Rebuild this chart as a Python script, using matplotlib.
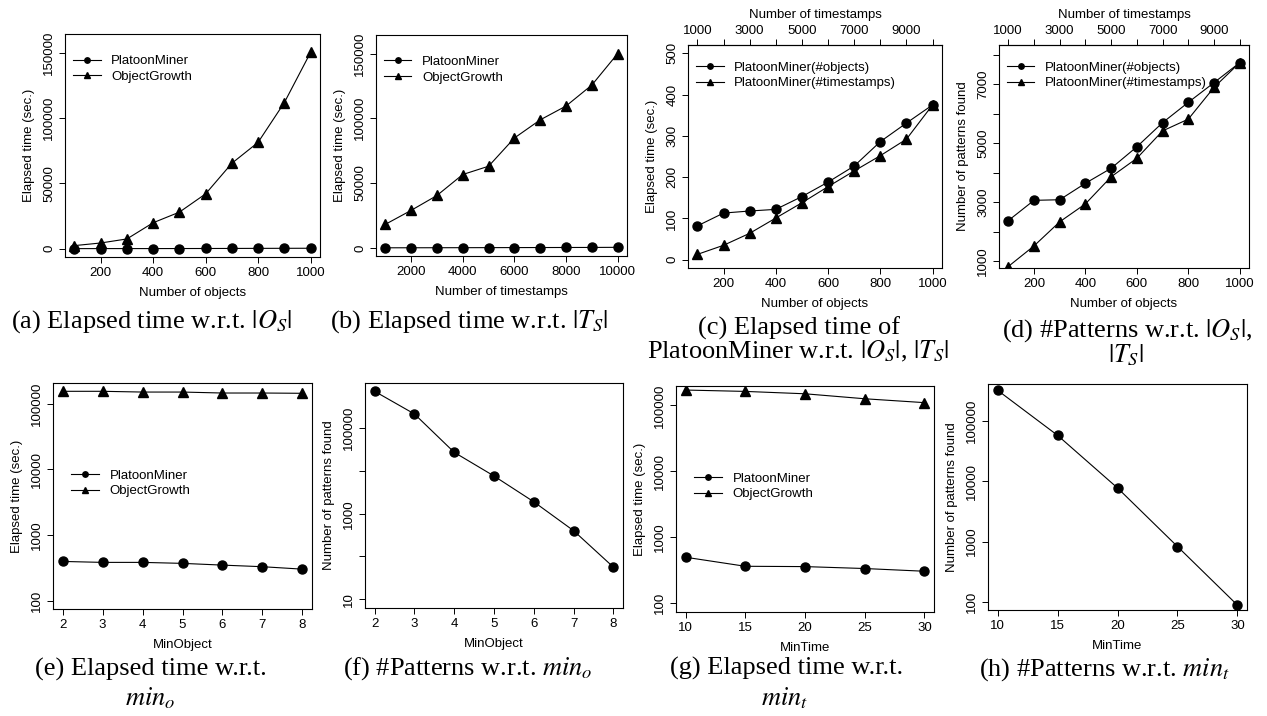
import numpy as np
import matplotlib.pyplot as plt
from matplotlib.ticker import FixedLocator, FixedFormatter, NullLocator

plt.rcParams['font.family'] = ['Liberation Sans', 'DejaVu Sans']
plt.rcParams['mathtext.fontset'] = 'stix'

# data
n_objects = [100, 200, 300, 400, 500, 600, 700, 800, 900, 1000]
n_timestamps = [1000, 2000, 3000, 4000, 5000, 6000, 7000, 8000, 9000, 10000]

time_by_objects_pm = [82, 113, 118, 122, 153, 188, 227, 286, 331, 375]
time_by_objects_og = [2400, 4400, 7500, 19900, 28000, 42000, 65400, 81400, 111800, 150200]
time_by_ts_pm = [13, 35, 64, 101, 138, 177, 215, 252, 292, 375]
time_by_ts_og = [18100, 28900, 40400, 56600, 63000, 84800, 98800, 109500, 125700, 150000]

pat_by_objects = [2370, 3060, 3080, 3640, 4150, 4880, 5700, 6390, 7060, 7740]
pat_by_ts = [810, 1510, 2330, 2940, 3860, 4490, 5420, 5820, 6900, 7740]

min_object = [2, 3, 4, 5, 6, 7, 8]
time_minobj_pm = [397, 384, 384, 371, 349, 330, 303]
time_minobj_og = [154000, 154000, 150000, 150000, 145000, 145000, 143600]
pat_minobj = [736000, 217000, 27400, 7640, 1900, 400, 56]

min_time = [10, 15, 20, 25, 30]
time_mintime_pm = [490, 357, 353, 330, 300]
time_mintime_og = [171000, 163000, 150000, 126000, 110000]
pat_mintime = [323000, 57800, 7740, 826, 88]

W, H = 1267, 716
fig = plt.figure(figsize=(W / 100, H / 100), dpi=100)

FS = 9.5
CAP = 19


def make_axes(l, t, r, b):
    ax = fig.add_axes([l / W, 1 - b / H, (r - l) / W, (b - t) / H])
    for s in ax.spines.values():
        s.set_linewidth(0.8)
    ax.tick_params(direction='out', length=4, width=0.7, labelsize=FS, pad=3)
    ax.tick_params(axis='y', labelrotation=90)
    for lab in ax.get_yticklabels():
        lab.set_va('center')
    return ax


def rlim(lo, hi):
    d = (hi - lo) * 0.04
    return lo - d, hi + d


def set_yticks(ax, ticks, labels):
    ax.yaxis.set_major_locator(FixedLocator(ticks))
    ax.yaxis.set_major_formatter(FixedFormatter(labels))
    ax.yaxis.set_minor_locator(NullLocator())
    for lab in ax.get_yticklabels():
        lab.set_va('center')


def circ(ax, x, y, label=None):
    ax.plot(x, y, '-', color='black', lw=0.8, marker='o', ms=6.5, label=label)


def tri(ax, x, y, label=None):
    ax.plot(x, y, '-', color='black', lw=0.8, marker='^', ms=7.7, label=label)


def legend(ax, anchor):
    ax.legend(loc='upper left', bbox_to_anchor=anchor, frameon=False, fontsize=FS,
              markerscale=0.6, handlelength=2.1, handletextpad=0.8,
              labelspacing=0.25, borderaxespad=0)


def caption(x, y, text):
    fig.text(x / W, 1 - y / H, text, ha='center', va='center', fontsize=CAP,
             family='Liberation Serif')


# (a) elapsed time vs number of objects
ax = make_axes(65, 34, 320, 257)
circ(ax, n_objects, time_by_objects_pm, 'PlatoonMiner')
tri(ax, n_objects, time_by_objects_og, 'ObjectGrowth')
ax.set_xlim(rlim(100, 1000))
ax.set_ylim(rlim(0, 158000))
ax.set_xticks([200, 400, 600, 800, 1000])
set_yticks(ax, [0, 50000, 100000, 150000], ['0', '50000', '100000', '150000'])
ax.set_xlabel('Number of objects', fontsize=FS, labelpad=6)
ax.set_ylabel('Elapsed time (sec.)', fontsize=FS, labelpad=6)
legend(ax, (0.01, 0.93))
caption(152, 322, r'(a) Elapsed time w.r.t. $|O_S|$')

# (b) elapsed time vs number of timestamps
ax = make_axes(376, 35, 627, 256)
circ(ax, n_timestamps, time_by_ts_pm, 'PlatoonMiner')
tri(ax, n_timestamps, time_by_ts_og, 'ObjectGrowth')
ax.set_xlim(rlim(1000, 10000))
ax.set_ylim(rlim(0, 158000))
ax.set_xticks([2000, 4000, 6000, 8000, 10000])
set_yticks(ax, [0, 50000, 100000, 150000], ['0', '50000', '100000', '150000'])
ax.set_xlabel('Number of timestamps', fontsize=FS, labelpad=6)
ax.set_ylabel('Elapsed time (sec.)', fontsize=FS, labelpad=6)
legend(ax, (0.01, 0.93))
caption(469, 322, r'(b) Elapsed time w.r.t. $|T_S|$')

# (c) PlatoonMiner elapsed time, both sweeps
ax = make_axes(688, 45, 942, 268)
circ(ax, n_objects, time_by_objects_pm, 'PlatoonMiner(#objects)')
tri(ax, np.array(n_timestamps) / 10, time_by_ts_pm, 'PlatoonMiner(#timestamps)')
ax.set_xlim(rlim(100, 1000))
ax.set_ylim(rlim(0, 500))
ax.set_xticks([200, 400, 600, 800, 1000])
set_yticks(ax, [0, 100, 200, 300, 400, 500], ['0', '100', '200', '300', '400', '500'])
ax.set_xlabel('Number of objects', fontsize=FS, labelpad=6)
ax.set_ylabel('Elapsed time (sec.)', fontsize=FS, labelpad=6)
top = ax.secondary_xaxis('top', functions=(lambda x: x * 10, lambda x: x / 10))
top.xaxis.set_major_locator(FixedLocator(n_timestamps))
top.xaxis.set_major_formatter(FixedFormatter(['1000', '', '3000', '', '5000', '', '7000', '', '9000', '']))
top.tick_params(direction='out', length=4, width=0.7, labelsize=FS, pad=2)
top.set_xlabel('Number of timestamps', fontsize=FS, labelpad=5)
legend(ax, (0.01, 0.95))
caption(799, 328, '(c) Elapsed time of')
caption(798, 351, r'PlatoonMiner w.r.t. $|O_S|$, $|T_S|$')

# (d) number of patterns, both sweeps
ax = make_axes(999, 45, 1249, 268)
circ(ax, n_objects, pat_by_objects, 'PlatoonMiner(#objects)')
tri(ax, np.array(n_timestamps) / 10, pat_by_ts, 'PlatoonMiner(#timestamps)')
ax.set_xlim(rlim(100, 1000))
ax.set_ylim(760, 8340)
ax.set_xticks([200, 400, 600, 800, 1000])
set_yticks(ax, [1000, 2000, 3000, 4000, 5000, 6000, 7000, 8000],
           ['1000', '', '3000', '', '5000', '', '7000', ''])
ax.set_xlabel('Number of objects', fontsize=FS, labelpad=6)
ax.set_ylabel('Number of patterns found', fontsize=FS, labelpad=6)
top = ax.secondary_xaxis('top', functions=(lambda x: x * 10, lambda x: x / 10))
top.xaxis.set_major_locator(FixedLocator(n_timestamps))
top.xaxis.set_major_formatter(FixedFormatter(['1000', '', '3000', '', '5000', '', '7000', '', '9000', '']))
top.tick_params(direction='out', length=4, width=0.7, labelsize=FS, pad=2)
top.set_xlabel('Number of timestamps', fontsize=FS, labelpad=5)
legend(ax, (0.01, 0.95))
caption(1127, 331, r'(d) #Patterns w.r.t. $|O_S|$,')
caption(1126, 355, r'$|T_S|$')

# (e) elapsed time vs MinObject (log)
ax = make_axes(53, 383, 312, 609)
circ(ax, min_object, time_minobj_pm, 'PlatoonMiner')
tri(ax, min_object, time_minobj_og, 'ObjectGrowth')
ax.set_yscale('log')
ax.set_xlim(rlim(2, 8))
ax.set_ylim(75, 206000)
ax.set_xticks(min_object)
set_yticks(ax, [100, 1000, 10000, 100000], ['100', '1000', '10000', '100000'])
ax.set_xlabel('MinObject', fontsize=FS, labelpad=6)
ax.set_ylabel('Elapsed time (sec.)', fontsize=FS, labelpad=6)
legend(ax, (0.05, 0.64))
caption(151, 669, '(e) Elapsed time w.r.t.')
caption(150, 698, r'$min_o$')

# (f) patterns vs MinObject (log)
ax = make_axes(365, 383, 623, 608)
circ(ax, min_object, pat_minobj)
ax.set_yscale('log')
ax.set_xlim(rlim(2, 8))
ax.set_ylim(6.2, 1.15e6)
ax.set_xticks(min_object)
set_yticks(ax, [10, 100, 1000, 10000, 100000], ['10', '', '1000', '', '100000'])
ax.set_xlabel('MinObject', fontsize=FS, labelpad=6)
ax.set_ylabel('Number of patterns found', fontsize=FS, labelpad=6)
caption(468, 669, r'(f) #Patterns w.r.t. $min_o$')

# (g) elapsed time vs MinTime (log)
ax = make_axes(676, 386, 934, 612)
circ(ax, min_time, time_mintime_pm, 'PlatoonMiner')
tri(ax, min_time, time_mintime_og, 'ObjectGrowth')
ax.set_yscale('log')
ax.set_xlim(rlim(10, 30))
ax.set_ylim(72, 197000)
ax.set_xticks(min_time)
set_yticks(ax, [100, 1000, 10000, 100000], ['100', '1000', '10000', '100000'])
ax.set_xlabel('MinTime', fontsize=FS, labelpad=6)
ax.set_ylabel('Elapsed time (sec.)', fontsize=FS, labelpad=6)
legend(ax, (0.05, 0.64))
caption(787, 668, '(g) Elapsed time w.r.t.')
caption(785, 698, r'$min_t$')

# (h) patterns vs MinTime (log)
ax = make_axes(988, 384, 1247, 610)
circ(ax, min_time, pat_mintime)
ax.set_yscale('log')
ax.set_xlim(rlim(10, 30))
ax.set_ylim(73, 411000)
ax.set_xticks(min_time)
set_yticks(ax, [100, 1000, 10000, 100000], ['100', '1000', '10000', '100000'])
ax.set_xlabel('MinTime', fontsize=FS, labelpad=6)
ax.set_ylabel('Number of patterns found', fontsize=FS, labelpad=6)
caption(1104, 670, r'(h) #Patterns w.r.t. $min_t$')

fig.savefig('out.png', dpi=100)
